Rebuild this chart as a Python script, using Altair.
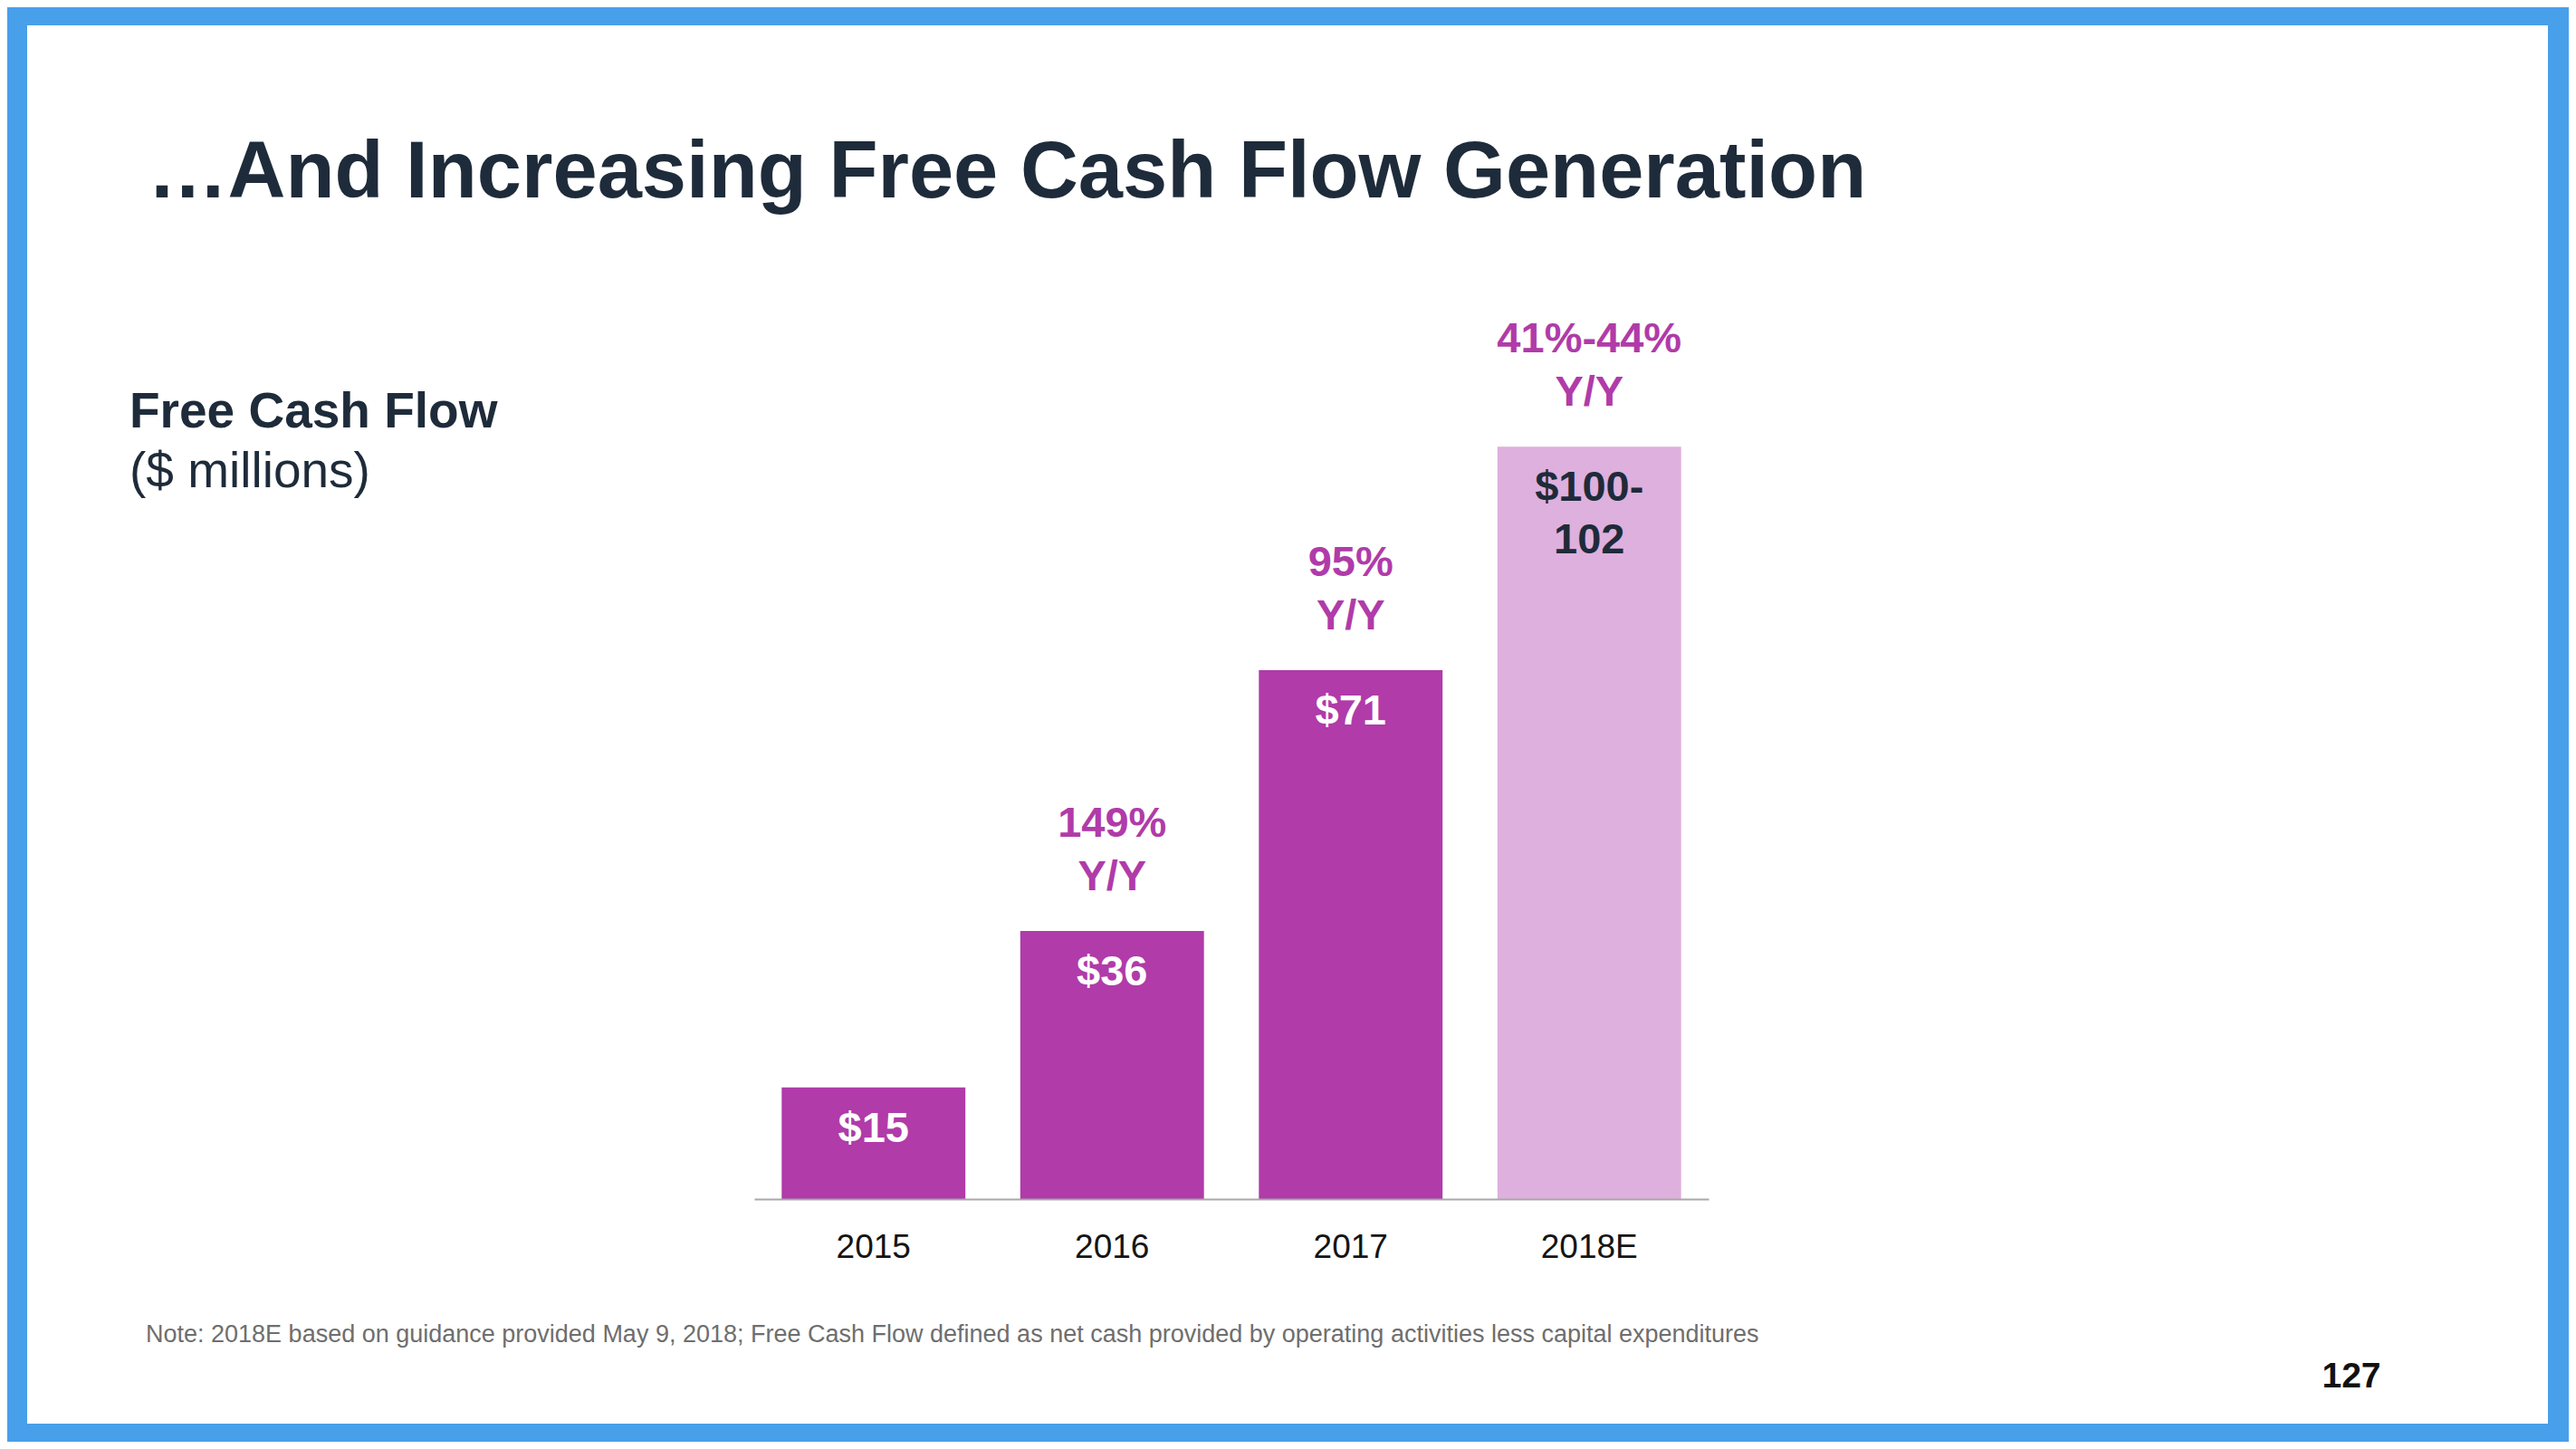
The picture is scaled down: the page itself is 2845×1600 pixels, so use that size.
import altair as alt
import pandas as pd

# ---------------- data ----------------
years = ["2015", "2016", "2017", "2018E"]
fcf = [15, 36, 71, 101]
kind = ["actual", "actual", "actual", "guidance"]
value_labels = ["$15", "$36", "$71", "$100-\n102"]
growth_labels = ["", "149%\nY/Y", "95%\nY/Y", "41%-44%\nY/Y"]

title_text = "…And Increasing Free Cash Flow Generation"
metric_name = "Free Cash Flow"
metric_unit = "($ millions)"
note_text = ("Note: 2018E based on guidance provided May 9, 2018; Free Cash Flow defined as "
             "net cash provided by operating activities less capital expenditures")
page_number = "127"

df = pd.DataFrame({"year": years, "fcf": fcf, "kind": kind,
                   "value_label": value_labels, "growth_label": growth_labels})
one = pd.DataFrame({"k": [0]})

# ---------------- styles / layout ----------------
FONT = "Liberation Sans"
BLUE = "#489FEA"
PURPLE = "#B03BA9"
LIGHT = "#DEB0DD"
NAVY = "#1E2B3A"

MARGIN = 8
CHART_W, CHART_H = 2829, 1584
PLOT_X0, PLOT_X1 = 833, 1887     # page coords of the x range
PLOT_BOTTOM = 1324               # page coord of the baseline
PLOT_W = PLOT_X1 - PLOT_X0
PLOT_H = 987
PAD_L = PLOT_X0 - MARGIN
PAD_T = PLOT_BOTTOM - MARGIN - PLOT_H
PAD_R = CHART_W - PAD_L - PLOT_W
PAD_B = CHART_H - PAD_T - PLOT_H


def px(x):
    return x - MARGIN - PAD_L


def py(y):
    return y - MARGIN - PAD_T


X_ENC = alt.X("year:N", sort=years,
              scale=alt.Scale(paddingInner=0.23, paddingOuter=0.115),
              axis=alt.Axis(title=None, ticks=False, labelAngle=0, labelFont=FONT,
                            labelFontSize=37, labelColor="#151515", labelPadding=64,
                            labelBaseline="alphabetic", domainColor="#A8A8A8",
                            domainWidth=2, grid=False, zindex=1))
Y_ENC = alt.Y("fcf:Q", scale=alt.Scale(domain=[0, 120], nice=False, zero=True), axis=None)

panel = alt.Chart(one).mark_rect(color="white").encode(
    x=alt.value(px(30)), x2=alt.value(px(2814)),
    y=alt.value(py(28)), y2=alt.value(py(1572)))

bars = alt.Chart(df).mark_bar().encode(
    x=X_ENC, y=Y_ENC,
    color=alt.condition(alt.datum.kind == "guidance", alt.value(LIGHT), alt.value(PURPLE)))

values = alt.Chart(df).mark_text(
    font=FONT, fontWeight="bold", fontSize=47, baseline="alphabetic", align="center",
    dy=60, lineBreak="\n", lineHeight=58).encode(
    x=X_ENC, y=Y_ENC, text="value_label:N",
    color=alt.condition(alt.datum.kind == "guidance", alt.value(NAVY), alt.value("white")))

growth = alt.Chart(df).mark_text(
    font=FONT, fontWeight="bold", fontSize=47, baseline="alphabetic", align="center",
    dy=-104, lineBreak="\n", lineHeight=59, color=PURPLE).encode(
    x=X_ENC, y=Y_ENC, text="growth_label:N")


def deco(text, x, y, size, weight="normal", color=NAVY, align="left"):
    return alt.Chart(one).mark_text(
        font=FONT, fontSize=size, fontWeight=weight, color=color, align=align,
        baseline="alphabetic").encode(
        x=alt.value(px(x)), y=alt.value(py(y)), text=alt.value(text))


title = deco(title_text, 163, 218, 88.5, "bold")
name = deco(metric_name, 143, 472, 55, "bold")
unit = deco(metric_unit, 143, 538, 55)
note = deco(note_text, 161, 1482, 27, color="#6E6E6E")
page = deco(page_number, 2597, 1532, 39, "bold", color="#111111", align="center")

chart = alt.layer(panel, bars, values, growth, title, name, unit, note, page).properties(
    width=PLOT_W, height=PLOT_H,
    padding={"left": PAD_L, "top": PAD_T, "right": PAD_R, "bottom": PAD_B},
    autosize=alt.AutoSizeParams(type="none"),
    background=BLUE,
).configure_view(strokeWidth=0)

chart.save("out.html", embed_options={"renderer": "svg", "actions": False})
